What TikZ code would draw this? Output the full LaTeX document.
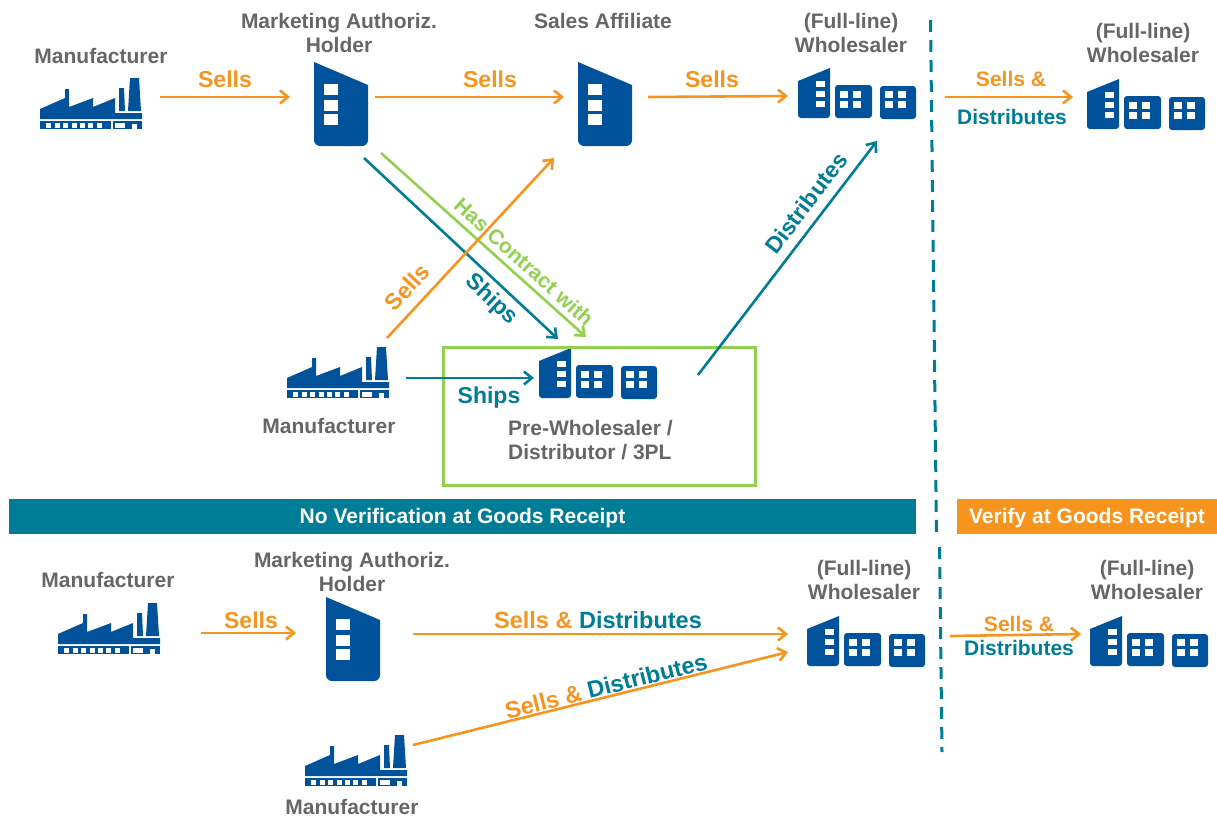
\documentclass[tikz,border=0pt]{standalone}
\usepackage{fontspec}
\setmainfont{Liberation Sans}
\usetikzlibrary{arrows.meta}
\definecolor{sellorange}{HTML}{F7941E}
\definecolor{shipteal}{HTML}{007D96}
\definecolor{contractgreen}{HTML}{92D050}
\definecolor{iconblue}{HTML}{00529B}
\definecolor{labelgray}{HTML}{666666}
\tikzset{
    factory/.pic={
        \fill[iconblue] (0,31) -- (25,20) -- (25,11) -- (29,11) -- (29,29) -- (53,20) -- (53,29) -- (75,20) -- (75,35) -- (77,35) -- (102,35) -- (102,41) -- (0,41) -- cycle;
        \fill[iconblue] (79,33) -- (79,10) -- (84,10) -- (85,33) -- cycle;
        \fill[iconblue] (88,33) -- (90,0) -- (99,0) -- (101,33) -- cycle;
        \fill[iconblue] (0,43) rectangle (71,51);
        \fill[iconblue] (73,43) rectangle (102,51);
        \foreach \wx in {6,15,23,32,40,48,57}
            \fill[white] (\wx,44.5) rectangle +(5,5);
        \fill[white] (75,44.5) rectangle (85,49.5);
        \fill[white] (92,46) rectangle (97,51);
    },
    tower/.pic={
        \fill[iconblue, rounded corners=6pt] (0,0) [sharp corners] -- (54,23) [rounded corners=6pt] -- (54,84) -- (0,84) [sharp corners] -- cycle;
        \foreach \wy in {22,38,52}
            \fill[white] (10,\wy) rectangle +(14,11);
    },
    depot/.pic={
        \fill[iconblue, rounded corners=3pt] (0,13) [sharp corners] -- (32,0) [rounded corners=3pt] -- (32,50) -- (0,50) [sharp corners] -- cycle;
        \foreach \wy in {13,23,33}
            \fill[white] (18,\wy) rectangle +(9,6);
        \fill[iconblue, rounded corners=3pt] (37,17) rectangle (74,50);
        \fill[iconblue, rounded corners=3pt] (82,18) rectangle (118,51);
        \foreach \wx in {42,55,87,100}
            \foreach \wy in {23,33}
                \fill[white] (\wx,\wy) rectangle +(8,6.5);
    },
}
\begin{document}
\begin{tikzpicture}[x=1pt,y=-1pt,>={Straight Barb[length=8pt,width=13pt,line width=2.6pt]}]
        \tikzstyle{every node}=[inner sep=0pt, font=\fontsize{21}{24}\selectfont\bfseries]
        \tikzstyle{actor}=[text=labelgray, align=center]
        \tikzstyle{sells}=[text=sellorange, font=\fontsize{23}{26}\selectfont\bfseries]
        \tikzstyle{ships}=[text=shipteal, font=\fontsize{23}{26}\selectfont\bfseries]
        \tikzstyle{sellline}=[->, draw=sellorange, line width=2.6pt]
        \tikzstyle{shipline}=[->, draw=shipteal, line width=2.6pt]
        \tikzstyle{contractline}=[->, draw=contractgreen, line width=2.6pt]
        \tikzstyle{dashline}=[draw=shipteal, line width=3pt, dash pattern=on 12pt off 8pt]
        \tikzstyle{banner}=[text=white, minimum height=35pt, text height=14.5pt, text depth=0pt]
        \useasboundingbox (0,0) rectangle (1217,816);

        \pic at (40,78) {factory};
        \pic at (287,347) {factory};
        \pic at (58,603) {factory};
        \pic at (305,735) {factory};
        \pic at (314,62) {tower};
        \pic at (578,62) {tower};
        \pic at (326,597) {tower};
        \pic at (798,68) {depot};
        \pic at (1087,79) {depot};
        \pic at (539,348) {depot};
        \pic at (807,616) {depot};
        \pic at (1090,616) {depot};

        \node[actor] (mfrtop) at (101,56) {Manufacturer};
        \node[actor] (mahtop) at (339,33) {Marketing Authoriz.\\Holder};
        \node[actor] (affiliate) at (603,21) {Sales Affiliate};
        \node[actor] (whltop) at (851,33) {(Full-line)\\Wholesaler};
        \node[actor] (whltopright) at (1143,43) {(Full-line)\\Wholesaler};
        \node[actor] (mfrmid) at (329,426) {Manufacturer};
        \node[actor, align=left, anchor=west] (prewhl) at (508,440) {Pre-Wholesaler /\\Distributor / 3PL};
        \node[actor] (mfrlow) at (108,580) {Manufacturer};
        \node[actor] (mahlow) at (352,572) {Marketing Authoriz.\\Holder};
        \node[actor] (whllow) at (864,580) {(Full-line)\\Wholesaler};
        \node[actor] (whllowright) at (1147,580) {(Full-line)\\Wholesaler};
        \node[actor] (mfrbottom) at (352,807) {Manufacturer};

        \node[draw=contractgreen, line width=3pt, minimum width=312pt, minimum height=138pt] (prebox) at (599,416) {};
        \node[banner, fill=shipteal, minimum width=907pt] (noverify) at (462.5,516.5) {No Verification at Goods Receipt};
        \node[banner, fill=sellorange, minimum width=260pt] (verify) at (1087,516.5) {Verify at Goods Receipt};

        \coordinate (dashtop) at (930.5,20);
        \coordinate (dashmida) at (936.5,535);
        \coordinate (dashmidb) at (939.5,547);
        \coordinate (dashbottom) at (942,752);
        \draw[dashline] (dashtop) -- (dashmida);
        \draw[dashline] (dashmidb) -- (dashbottom);

        \coordinate (a1) at (160,97);
        \coordinate (a2) at (290,97);
        \coordinate (b1) at (375,97);
        \coordinate (b2) at (564,97);
        \coordinate (c1) at (648,97);
        \coordinate (c2) at (788,96);
        \coordinate (d1) at (945,97);
        \coordinate (d2) at (1073,97);
        \coordinate (e1) at (381,153);
        \coordinate (e2) at (586,337);
        \coordinate (f1) at (364,158);
        \coordinate (f2) at (558,339);
        \coordinate (g1) at (387,338);
        \coordinate (g2) at (554,158);
        \coordinate (h1) at (698,375);
        \coordinate (h2) at (877,141);
        \coordinate (i1) at (406,378);
        \coordinate (i2) at (534,378);
        \coordinate (j1) at (201,633);
        \coordinate (j2) at (296,633);
        \coordinate (k1) at (413,634);
        \coordinate (k2) at (788,634);
        \coordinate (l1) at (413,745);
        \coordinate (l2) at (788,652);
        \coordinate (m1) at (950,636);
        \coordinate (m2) at (1081,634);

        \draw[sellline] (a1) -- (a2);
        \draw[sellline] (b1) -- (b2);
        \draw[sellline] (c1) -- (c2);
        \draw[sellline] (d1) -- (d2);
        \draw[contractline] (e1) -- (e2);
        \draw[shipline] (f1) -- (f2);
        \draw[sellline] (g1) -- (g2);
        \draw[shipline] (h1) -- (h2);
        \draw[shipline] (i1) -- (i2);
        \draw[sellline] (j1) -- (j2);
        \draw[sellline] (k1) -- (k2);
        \draw[sellline] (l1) -- (l2);
        \draw[sellline] (m1) -- (m2);

        \node[sells] (sellsa) at (225,79) {Sells};
        \node[sells] (sellsb) at (490,79) {Sells};
        \node[sells] (sellsc) at (712,79) {Sells};
        \node[text=sellorange] (sellsd) at (1011,79) {Sells \&};
        \node[text=shipteal] (distd) at (1012,117) {Distributes};
        \node[text=contractgreen, rotate=-42] (contract) at (524,262) {Has Contract with};
        \node[ships, rotate=-43] (shipsf) at (491,300) {Ships};
        \node[sells, rotate=47] (sellsg) at (407,287) {Sells};
        \node[ships, rotate=52.6] (disth) at (806,203) {Distributes};
        \node[ships] (shipsi) at (489,398) {Ships};
        \node[sells] (sellsj) at (251,620) {Sells};
        \node[sells, font=\fontsize{23.5}{26}\selectfont\bfseries] (sellsk) at (598,620) {Sells \& \textcolor{shipteal}{Distributes}};
        \node[sells, rotate=14, font=\fontsize{23.5}{26}\selectfont\bfseries] (sellsl) at (606,686) {Sells \& \textcolor{shipteal}{Distributes}};
        \node[text=sellorange] (sellsm) at (1019,624) {Sells \&};
        \node[text=shipteal] (distm) at (1019,648) {Distributes};
    \end{tikzpicture}
\end{document}
